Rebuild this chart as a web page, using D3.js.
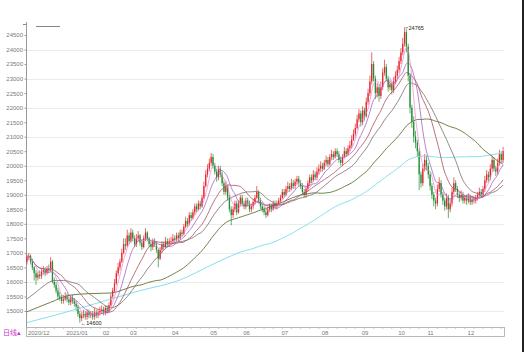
<!DOCTYPE html>
<html>
<head>
<meta charset="utf-8">
<script src="https://cdn.jsdelivr.net/npm/d3@7"></script>
<style>
body { margin: 0; background: #fff; }
svg { display: block; }
</style>
</head>
<body>
<script>
// daily candles, 2020/12 - 2021/12
var opens = [16700,16850,16900,16700,16500,16300,16150,16250,16200,16350,
  16400,16300,16450,16400,16700,16000,15900,15700,15500,15450,
  15350,15400,15500,15400,15300,15450,15350,15250,15150,14900,
  14750,14850,14900,14800,14950,14850,14900,14800,14950,14850,
  14950,15000,15050,14950,15100,15000,15200,15500,15700,15950,
  16300,16500,16700,17000,17300,17250,17600,17400,17700,17500,
  17300,17500,17600,17350,17200,17500,17700,17500,17300,17200,
  17400,17300,17100,16800,17100,17300,17200,17400,17300,17400,
  17400,17500,17450,17600,17500,17700,17650,17900,18100,18000,
  18300,18200,18400,18600,18500,18700,18600,18900,19300,19700,
  19900,20100,20300,20000,19800,19600,19900,19700,19400,19100,
  19300,18900,18500,18300,18500,18700,18400,18700,18900,18700,
  18600,18800,18700,18500,18600,18750,18900,19100,18800,18600,
  18500,18400,18300,18500,18600,18500,18700,18600,18700,18800,
  18900,19100,19000,19200,19300,19200,19400,19300,19450,19550,
  19400,19300,19100,19000,19200,19400,19600,19500,19700,19600,
  19800,19900,20000,19900,20100,20200,20050,20300,20400,20300,
  20500,20400,20200,20100,20300,20500,20400,20600,20700,20900,
  21100,21300,21600,21800,21500,21900,21700,22200,22500,22900,
  23500,23000,22500,22700,22400,22700,23200,23400,23000,22700,
  22800,22600,22900,23100,23300,23600,23900,24200,24600,24100,
  23100,22000,21500,21000,20800,20500,19700,19400,19900,20200,
  20000,19700,19300,19000,18800,18700,19200,19400,19000,18800,
  18600,18900,18500,18700,19100,19400,19200,19000,18900,19000,
  18800,18900,18800,18900,18750,18850,18800,18900,19000,19100,
  19000,19200,19500,19700,19600,19900,20200,19900,19800,20100,
  20400,20200];

var highs = [16950,17000,16950,16800,16550,16400,16350,16400,16450,16550,
  16500,16550,16600,16850,16750,16150,16000,15800,15650,15550,
  15550,15650,15600,15500,15550,15550,15450,15350,15200,15000,
  14950,15050,15000,15050,15050,15000,15000,15100,15050,15050,
  15150,15200,15150,15200,15200,15300,15600,15800,16100,16400,
  16650,16800,17150,17500,17500,17800,17700,17850,17800,17600,
  17650,17750,17650,17450,17600,17850,17750,17550,17400,17500,
  17500,17400,17150,17200,17400,17400,17550,17500,17500,17550,
  17650,17600,17700,17700,17800,17800,18000,18250,18200,18400,
  18400,18500,18700,18700,18800,18800,19000,19450,19850,20050,
  20250,20440,20400,20100,19900,20000,20000,19800,19500,19450,
  19350,19000,18600,18600,18800,18800,18800,19000,19000,18800,
  18900,18900,18800,18700,18850,19000,19300,19150,18900,18700,
  18600,18500,18600,18700,18700,18800,18800,18800,18900,19000,
  19200,19200,19300,19450,19400,19550,19500,19550,19650,19650,
  19500,19400,19200,19300,19500,19700,19700,19850,19800,19950,
  20050,20150,20100,20200,20350,20300,20400,20550,20500,20600,
  20600,20500,20300,20400,20650,20600,20700,20850,21050,21250,
  21450,21750,21950,21900,22050,22000,22350,22650,23100,23900,
  23600,23100,22850,22800,22900,23350,23650,23500,23100,22950,
  22900,23050,23250,23450,23750,24050,24400,24765,24700,24200,
  23200,22100,21700,21200,20900,20600,19800,20050,20400,20350,
  20100,19800,19400,19100,18900,19350,19600,19500,19100,18900,
  19050,19000,18850,19250,19600,19500,19300,19100,19150,19100,
  19000,19000,19050,19000,18950,18950,19000,19100,19250,19200,
  19300,19650,19850,19800,20050,20350,20300,20000,20250,20550,
  20500,20650];

var lows = [16600,16750,16600,16400,16050,15900,16050,16100,16100,16250,
  16200,16250,16300,16350,15950,15800,15600,15400,15350,15250,
  15250,15350,15300,15200,15200,15250,15150,15000,14800,14600,
  14650,14750,14700,14700,14750,14750,14700,14700,14750,14750,
  14850,14900,14850,14850,14900,14950,15150,15400,15650,15900,
  16200,16400,16650,16950,17100,17200,17300,17350,17400,17200,
  17200,17400,17250,17100,17150,17400,17400,17200,17050,17100,
  17200,17000,16500,16750,17000,17100,17150,17200,17200,17300,
  17300,17350,17400,17400,17450,17550,17600,17850,17900,17950,
  18100,18150,18300,18400,18450,18500,18550,18850,19250,19600,
  19800,20000,19900,19700,19450,19500,19600,19300,19000,19000,
  18800,18400,17950,18200,18400,18300,18350,18600,18600,18500,
  18500,18600,18400,18400,18500,18650,18850,18700,18500,18400,
  18300,18200,18250,18400,18400,18450,18500,18500,18600,18700,
  18850,18900,18950,19100,19100,19150,19200,19200,19350,19300,
  19200,19000,18900,18900,19100,19300,19400,19450,19500,19500,
  19700,19800,19800,19850,20000,19950,20000,20200,20200,20250,
  20300,20100,20000,20000,20250,20300,20350,20500,20600,20850,
  21000,21250,21500,21350,21400,21550,21650,22100,22400,22800,
  22900,22300,22350,22200,22300,22600,23100,22900,22550,22600,
  22450,22500,22800,23000,23200,23500,23800,24100,23900,22900,
  21800,21300,20800,20600,20300,19160,19250,19300,19800,19850,
  19550,19150,18850,18600,18500,18600,19100,18900,18650,18450,
  18500,18200,18400,18600,19000,19100,18900,18750,18800,18700,
  18700,18650,18700,18650,18650,18700,18700,18800,18900,18900,
  18900,19100,19400,19450,19500,19800,19800,19650,19700,20000,
  20100,20100];

var closes = [16850,16900,16700,16500,16300,16150,16250,16200,16350,16400,
  16300,16450,16400,16700,16000,15900,15700,15500,15450,15350,
  15400,15500,15400,15300,15450,15350,15250,15150,14900,14750,
  14850,14900,14800,14950,14850,14900,14800,14950,14850,14950,
  15000,15050,14950,15100,15000,15200,15500,15700,15950,16300,
  16500,16700,17000,17300,17250,17600,17400,17700,17500,17300,
  17500,17600,17350,17200,17500,17700,17500,17300,17200,17400,
  17300,17100,16800,17100,17300,17200,17400,17300,17400,17400,
  17500,17450,17600,17500,17700,17650,17900,18100,18000,18300,
  18200,18400,18600,18500,18700,18600,18900,19300,19700,19900,
  20100,20300,20000,19800,19600,19900,19700,19400,19100,19300,
  18900,18500,18300,18500,18700,18400,18700,18900,18700,18600,
  18800,18700,18500,18600,18750,18900,19100,18800,18600,18500,
  18400,18300,18500,18600,18500,18700,18600,18700,18800,18900,
  19100,19000,19200,19300,19200,19400,19300,19450,19550,19400,
  19300,19100,19000,19200,19400,19600,19500,19700,19600,19800,
  19900,20000,19900,20100,20200,20050,20300,20400,20300,20500,
  20400,20200,20100,20300,20500,20400,20600,20700,20900,21100,
  21300,21600,21800,21500,21900,21700,22200,22500,22900,23500,
  23000,22500,22700,22400,22700,23200,23400,23000,22700,22800,
  22600,22900,23100,23300,23600,23900,24200,24600,24100,23100,
  22000,21500,21000,20800,20500,19700,19400,19900,20200,20000,
  19700,19300,19000,18800,18700,19200,19400,19000,18800,18600,
  18900,18500,18700,19100,19400,19200,19000,18900,19000,18800,
  18900,18800,18900,18750,18850,18800,18900,19000,19100,19000,
  19200,19500,19700,19600,19900,20200,19900,19800,20100,20400,
  20200,20500];

// first candle of each month, and its label
var monthIdx = [0, 21, 41, 56, 79, 100, 118, 139, 161, 183, 203, 219, 241];
var monthLabels = ["2020/12", "2021/01", "02", "03", "04", "05", "06", "07", "08", "09", "10", "11", "12"];

// long averages before their window fills: [index, value]
var ma30Head = [[0, 15410], [5, 15650], [10, 15900], [15, 16050], [20, 16050], [25, 15980]];
var ma60Head = [[0, 14970], [13, 15300], [24, 15550], [35, 15600], [46, 15620], [55, 15780]];
var ma120Head = [[0, 14600], [18, 14900], [40, 15300], [62, 15700], [84, 16070], [100, 16550], [112, 16900]];

var yTicks = d3.range(15000, 24501, 500);
var gridTicks = d3.range(15000, 24001, 1000);

var w = 524, h = 352;
var plotL = 26, plotR = 504, plotT = 22, plotB = 327;

var svg = d3.select("body").append("svg")
  .attr("width", w)
  .attr("height", h);

var xScale = d3.scaleBand()
  .domain(d3.range(closes.length))
  .range([plotL, plotR])
  .paddingInner(0.3)
  .paddingOuter(0.15);

var yScale = d3.scaleLinear()
  .domain([15000, 24500])
  .range([311, 35]);

function xc(i) {
  return xScale(i) + xScale.bandwidth() / 2;
}

svg.append("defs").append("clipPath").attr("id", "plot")
  .append("rect")
  .attr("x", plotL).attr("y", plotT)
  .attr("width", plotR - plotL).attr("height", plotB - plotT);

// grid
svg.selectAll("line.grid")
  .data(gridTicks)
  .enter()
  .append("line")
  .attr("class", "grid")
  .attr("x1", plotL)
  .attr("x2", plotR)
  .attr("y1", function(d) { return Math.round(yScale(d)) + 0.5; })
  .attr("y2", function(d) { return Math.round(yScale(d)) + 0.5; })
  .attr("stroke", "#ebebeb")
  .attr("stroke-width", 1);

// y axis
var yAxis = d3.axisLeft(yScale)
  .tickValues(yTicks)
  .tickSize(2)
  .tickPadding(1.5)
  .tickFormat(d3.format("d"));

var gy = svg.append("g")
  .attr("transform", "translate(" + (plotL + 0.5) + ",0)")
  .call(yAxis);
gy.select(".domain").remove();
gy.selectAll("line").attr("stroke", "#999");
gy.selectAll("text")
  .attr("fill", "#7a7a7a")
  .attr("font-family", "Liberation Sans, Arial, sans-serif")
  .attr("font-size", "6px");

svg.append("line")
  .attr("x1", plotL + 0.5).attr("x2", plotL + 0.5)
  .attr("y1", plotT).attr("y2", plotB)
  .attr("stroke", "#9a9a9a");
svg.append("line")
  .attr("x1", plotL - 3).attr("x2", plotL)
  .attr("y1", plotT + 2.5).attr("y2", plotT + 2.5)
  .attr("stroke", "#888");
svg.append("line")
  .attr("x1", 36).attr("x2", 60)
  .attr("y1", 26.5).attr("y2", 26.5)
  .attr("stroke", "#666")
  .attr("stroke-width", 0.8);

// moving averages
function movingAvg(n, head) {
  var pts = [];
  if (head) {
    head.forEach(function(p) { pts.push(p); });
  }
  closes.forEach(function(c, i) {
    if (i >= n - 1) {
      pts.push([i, d3.mean(closes.slice(i - n + 1, i + 1))]);
    } else if (!head) {
      pts.push([i, d3.mean(closes.slice(0, i + 1))]);
    }
  });
  return pts;
}

var maLines = [
  { n: 120, head: ma120Head, color: "#86dfee", width: 1 },
  { n: 60, head: ma60Head, color: "#5f7236", width: 0.9 },
  { n: 30, head: ma30Head, color: "#7d6a6a", width: 0.8 },
  { n: 20, head: null, color: "#a4505e", width: 0.8 },
  { n: 10, head: null, color: "#9b4fb5", width: 0.7 },
  { n: 5, head: null, color: "#ee7fd6", width: 0.7 }
];

var line = d3.line()
  .x(function(d) { return xc(d[0]); })
  .y(function(d) { return yScale(d[1]); })
  .curve(d3.curveMonotoneX);

var gLines = svg.append("g").attr("clip-path", "url(#plot)");

// candles
var gCandles = svg.append("g").attr("clip-path", "url(#plot)");
var candles = gCandles.selectAll("g")
  .data(closes)
  .enter()
  .append("g");

function candleColor(d, i) {
  return d >= opens[i] ? "#e6262c" : "#1f8f33";
}

candles.append("line")
  .attr("x1", function(d, i) { return xc(i); })
  .attr("x2", function(d, i) { return xc(i); })
  .attr("y1", function(d, i) { return yScale(highs[i]); })
  .attr("y2", function(d, i) { return yScale(lows[i]); })
  .attr("stroke", candleColor)
  .attr("stroke-width", 0.7);

candles.append("rect")
  .attr("x", function(d, i) { return xScale(i); })
  .attr("width", xScale.bandwidth())
  .attr("y", function(d, i) { return yScale(Math.max(d, opens[i])); })
  .attr("height", function(d, i) {
    return Math.max(0.6, Math.abs(yScale(d) - yScale(opens[i])));
  })
  .attr("fill", candleColor);

gLines.selectAll("path")
  .data(maLines)
  .enter()
  .append("path")
  .attr("d", function(m) { return line(movingAvg(m.n, m.head)); })
  .attr("fill", "none")
  .attr("stroke", function(m) { return m.color; })
  .attr("stroke-width", function(m) { return m.width; });
gLines.raise();

// high / low marks
var hiIdx = d3.maxIndex(highs);
var loIdx = d3.minIndex(lows);

svg.append("line")
  .attr("x1", xc(hiIdx) + 1).attr("x2", xc(hiIdx) + 3.5)
  .attr("y1", yScale(highs[hiIdx]) + 0.5).attr("y2", yScale(highs[hiIdx]) + 0.5)
  .attr("stroke", "#333").attr("stroke-width", 0.6);
svg.append("text")
  .attr("x", xc(hiIdx) + 4)
  .attr("y", yScale(highs[hiIdx]) + 2.5)
  .attr("font-family", "Liberation Sans, Arial, sans-serif")
  .attr("font-size", "5.5px")
  .attr("fill", "#222")
  .text(highs[hiIdx]);

svg.append("text")
  .attr("x", xc(loIdx) + 1)
  .attr("y", yScale(lows[loIdx]) + 2)
  .attr("font-family", "Liberation Sans, Arial, sans-serif")
  .attr("font-size", "5.5px")
  .attr("fill", "#222")
  .text("\u2190" + lows[loIdx]);

// x axis band
svg.append("rect")
  .attr("x", plotL + 0.5).attr("y", plotB + 0.5)
  .attr("width", plotR - plotL).attr("height", 9)
  .attr("fill", "#fff")
  .attr("stroke", "#a8a8a8")
  .attr("stroke-width", 0.8);

svg.selectAll("line.wk")
  .data(d3.range(0, closes.length, 5))
  .enter()
  .append("line")
  .attr("class", "wk")
  .attr("x1", function(d) { return xc(d); })
  .attr("x2", function(d) { return xc(d); })
  .attr("y1", plotB + 0.5)
  .attr("y2", plotB + 2)
  .attr("stroke", "#aaa")
  .attr("stroke-width", 0.6);

svg.selectAll("text.month")
  .data(monthIdx)
  .enter()
  .append("text")
  .attr("class", "month")
  .attr("x", function(d) { return xc(d) + 1; })
  .attr("y", plotB + 7.5)
  .attr("font-family", "Liberation Sans, Arial, sans-serif")
  .attr("font-size", "6px")
  .attr("fill", "#7a7a7a")
  .text(function(d, i) { return monthLabels[i]; });

svg.append("text")
  .attr("x", 3)
  .attr("y", plotB + 8)
  .attr("font-family", "Noto Sans CJK SC, sans-serif")
  .attr("font-size", "7px")
  .attr("fill", "#c438c8")
  .text("日线\u25B4");

// right border of the window
svg.append("rect")
  .attr("x", 522).attr("y", 0)
  .attr("width", 2).attr("height", h)
  .attr("fill", "#222");
</script>
</body>
</html>
